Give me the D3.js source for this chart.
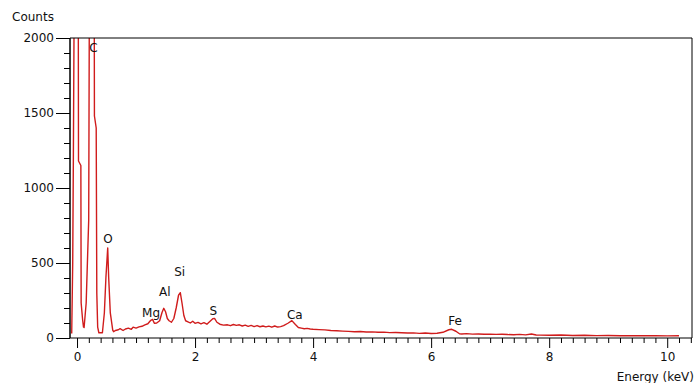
<!DOCTYPE html>
<html>
<head>
<meta charset="utf-8">
<script src="https://cdn.jsdelivr.net/npm/d3@7"></script>
<style>
  body { margin: 0; background: #fff; }
  svg { display: block; font-family: "DejaVu Sans", Verdana, sans-serif; }
</style>
</head>
<body>
<svg id="chart" width="695" height="383"></svg>
<script>
// EDS spectrum (energy in keV, counts)
const energy = [
  -0.09, -0.073, -0.062, -0.045, -0.02, 0.0, 0.02, 0.025, 0.065, 0.07, 0.095, 0.11, 0.12,
  0.155, 0.198, 0.21, 0.25, 0.28, 0.29, 0.295, 0.325, 0.335, 0.35, 0.37, 0.43,
  0.463, 0.49, 0.52, 0.536, 0.564, 0.605,
  0.62, 0.65, 0.7, 0.73, 0.78, 0.82, 0.87, 0.92, 0.95, 1.0, 1.05, 1.1, 1.15, 1.2,
  1.25, 1.28, 1.31, 1.35, 1.4, 1.44, 1.47, 1.5, 1.53, 1.56, 1.6, 1.64, 1.68, 1.72,
  1.75, 1.78, 1.81, 1.84, 1.88, 1.92, 1.96, 2.0, 2.05, 2.1, 2.15, 2.2, 2.25, 2.3,
  2.33, 2.37, 2.42, 2.48, 2.55, 2.6, 2.65, 2.7, 2.75, 2.8, 2.85, 2.9, 2.95, 3.0,
  3.05, 3.1, 3.15, 3.2, 3.25, 3.3, 3.35, 3.4, 3.45, 3.5, 3.58, 3.64, 3.7, 3.75, 3.8,
  3.85, 3.9, 3.95, 4.0, 4.1, 4.2, 4.3,
  4.4, 4.5, 4.6, 4.7, 4.8, 4.9, 5.0, 5.1, 5.2, 5.3, 5.4, 5.5, 5.6, 5.7, 5.8, 5.9,
  6.0, 6.1, 6.2, 6.3, 6.35, 6.42, 6.48, 6.52, 6.6, 6.7, 6.8, 6.9, 7.0, 7.1, 7.2,
  7.3, 7.4, 7.5, 7.6, 7.7, 7.78, 7.85, 8.0, 8.2, 8.4, 8.6, 8.8, 9.0, 9.2, 9.4,
  9.6, 9.8, 10.0, 10.2, 10.45
];
const counts = [
  30, 500, 1200, 2500, 4200, 4500, 2600, 1180, 1150, 233, 120, 73, 70,
  233, 787, 2400, 5500, 6500, 2600, 1480, 1400, 300, 73, 35, 35,
  167, 407, 600, 407, 167, 53,
  42, 50, 55, 62, 50, 60, 66, 58, 72, 66, 74, 78, 88, 95,
  118, 124, 98, 100, 115, 170, 198, 175, 130, 115, 105, 130, 200, 285,
  302, 230, 150, 115, 108, 100, 112, 98, 104, 94, 102, 92, 110, 128,
  131, 105, 92, 86, 88, 82, 90, 84, 88, 80, 86, 78, 84,
  76, 83, 75, 80, 74, 79, 72, 80, 73, 76, 82, 100, 116, 90, 70,
  66, 62, 64, 60, 58, 56, 54,
  50, 48, 46, 44, 42, 43, 40, 41, 38, 39, 36, 37, 35, 33, 34, 31,
  33, 30, 32, 38, 55, 58, 45, 28, 27, 29, 26, 27, 25, 26, 24,
  25, 23, 22, 24, 21, 27, 20, 19, 18, 20, 17, 18, 16, 17, 15,
  16, 15, 16, 14, 15
];

// peak labels: element, line energy, count level of the label
const elements = ["C", "O", "Mg", "Al", "Si", "S", "Ca", "Fe"];
const elementEnergy = [0.277, 0.525, 1.254, 1.487, 1.74, 2.308, 3.691, 6.404];
const labelCounts = [1907, 633, 140, 280, 413, 153, 127, 87];

const yTicks = [0, 500, 1000, 1500, 2000];
const xTicks = [0, 2, 4, 6, 8, 10];

const svg = d3.select("#chart");
const margin = { top: 38, left: 70, right: 3, bottom: 45 };
const W = 695, H = 383;
const w = W - margin.left - margin.right;
const h = H - margin.top - margin.bottom;
const font = "'DejaVu Sans', Verdana, sans-serif";

const x = d3.scaleLinear().domain([-0.119, 10.42]).range([0, w]);
const y = d3.scaleLinear().domain([0, 2000]).range([h, 0]);

const g = svg.append("g").attr("transform", "translate(" + [margin.left, margin.top] + ")");

svg.append("defs").append("clipPath").attr("id", "plot")
  .append("rect").attr("width", w).attr("height", h);

// spectrum
const pts = energy.map((e, i) => [e, counts[i]]);
g.append("path")
  .datum(pts)
  .attr("clip-path", "url(#plot)")
  .attr("fill", "none")
  .attr("stroke", "#d01c1c")
  .attr("stroke-width", 1.4)
  .attr("stroke-linejoin", "round")
  .attr("d", d3.line().x(d => x(d[0])).y(d => y(d[1])));

// frame
g.append("path")
  .attr("d", "M0," + h + "V0H" + w + "V" + h)
  .attr("fill", "none").attr("stroke", "#000").attr("stroke-width", 1);

const blank = () => "";

// y axis: minor every 100, major every 500
const yMinor = d3.range(100, 2000, 100).filter(v => v % 500 !== 0);
g.append("g").attr("class", "yminor")
  .call(d3.axisLeft(y).tickValues(yMinor).tickSize(6).tickFormat(blank))
  .call(a => a.select(".domain").remove());
g.append("g").attr("class", "ymajor")
  .call(d3.axisLeft(y).tickValues(yTicks).tickSize(14).tickPadding(2)
    .tickSizeOuter(0).tickFormat(d3.format("d")))
  .call(a => a.select(".domain").attr("d", "M0," + h + "V0"));

// x axis: minor every 0.2, major every 2
const xMinor = d3.range(1, 53).map(i => +(i * 0.2).toFixed(1)).filter(v => v % 2 !== 0 && v <= 10.4);
g.append("g").attr("transform", "translate(0," + h + ")")
  .call(d3.axisBottom(x).tickValues(xMinor).tickSize(5).tickFormat(blank))
  .call(a => a.select(".domain").remove());
g.append("g").attr("transform", "translate(0," + h + ")")
  .call(d3.axisBottom(x).tickValues(xTicks).tickSize(10).tickPadding(4)
    .tickSizeOuter(0).tickFormat(d3.format("d")))
  .call(a => a.select(".domain").attr("d", "M0,0H" + w));

svg.selectAll(".tick text")
  .attr("font-size", 12)
  .attr("font-family", font)
  .attr("fill", "#111");
svg.selectAll(".tick line").attr("stroke", "#000");
svg.selectAll(".domain").attr("stroke", "#000");

// peak labels
g.selectAll(".elem")
  .data(elements)
  .enter().append("text")
  .attr("class", "elem")
  .attr("x", (d, i) => x(elementEnergy[i]))
  .attr("y", (d, i) => y(labelCounts[i]))
  .attr("text-anchor", "middle")
  .attr("font-size", 12)
  .attr("font-family", font)
  .attr("fill", "#111")
  .text(d => d);

// axis titles
svg.append("text")
  .attr("x", 12).attr("y", 21)
  .attr("font-size", 12)
  .attr("font-family", font)
  .attr("fill", "#111")
  .text("Counts");

svg.append("text")
  .attr("x", 694).attr("y", 381)
  .attr("text-anchor", "end")
  .attr("font-size", 12)
  .attr("font-family", font)
  .attr("fill", "#111")
  .text("Energy (keV)");
</script>
</body>
</html>
